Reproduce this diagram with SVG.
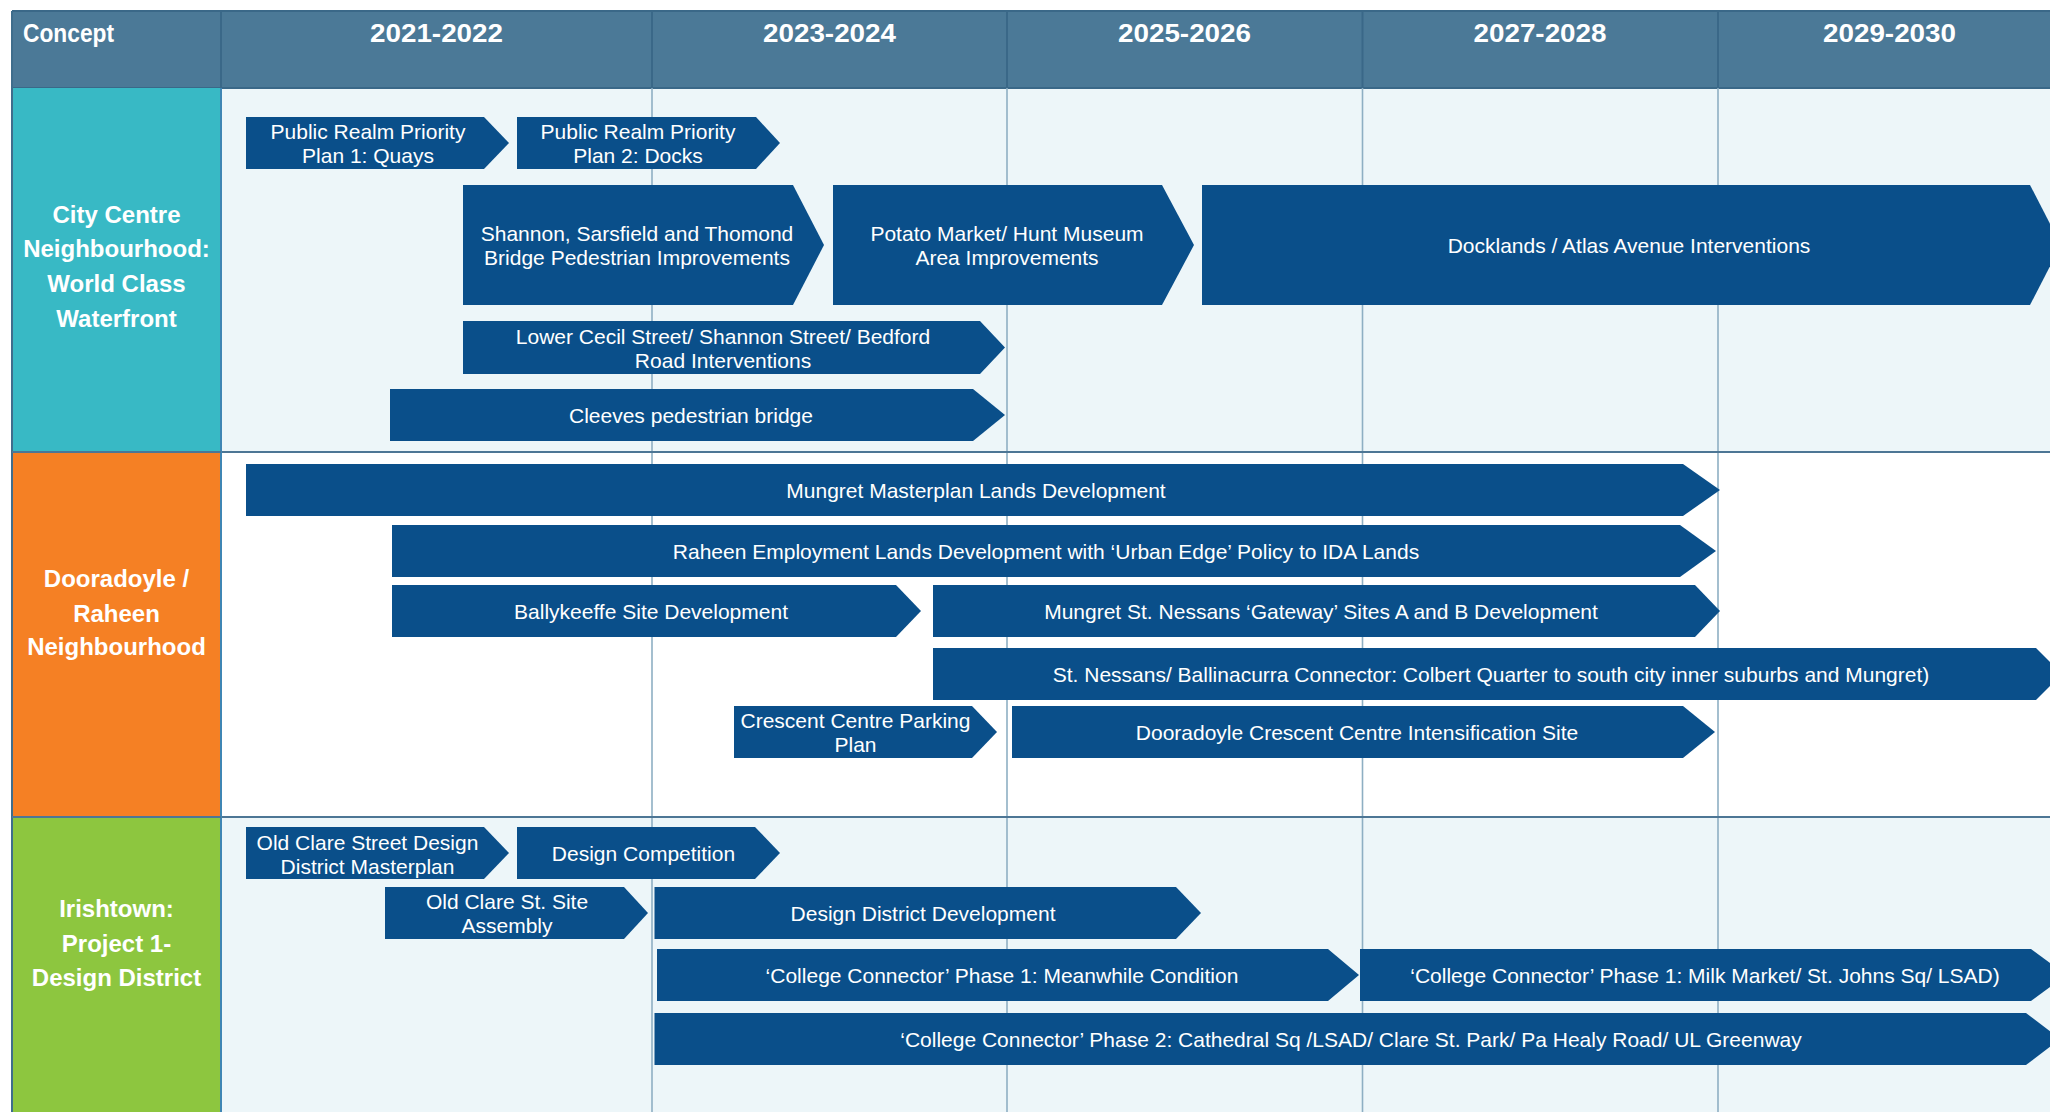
<svg xmlns="http://www.w3.org/2000/svg" width="2050" height="1112" viewBox="0 0 2050 1112">
<style>
.hdr{fill:#4b7997}
.hl{stroke:#3a6888;stroke-width:2}
.vl{stroke:#8eafc3;stroke-width:1.6}
.rl{stroke:#4d7695;stroke-width:2}
.ht{font-family:"Liberation Sans",Arial,sans-serif;font-weight:bold;font-size:25px;fill:#ffffff}
.ct{font-family:"Liberation Sans",Arial,sans-serif;font-weight:bold;font-size:24px;fill:#ffffff;text-anchor:middle}
.bar{fill:#0a4f8a}
.bt{font-family:"Liberation Sans",Arial,sans-serif;font-size:21px;fill:#ffffff;text-anchor:middle}
</style>
<rect x="0" y="0" width="2050" height="1112" fill="#ffffff"/>
<g id="grid">
<rect x="221" y="88" width="1840" height="364" fill="#edf6f9"/>
<rect x="221" y="452" width="1840" height="365" fill="#ffffff"/>
<rect x="221" y="817" width="1840" height="300" fill="#edf6f9"/>
<rect class="hdr" x="12" y="11" width="2050" height="77"/>
<line class="hl" x1="12" y1="11" x2="2050" y2="11"/>
<line class="hl" x1="12" y1="88" x2="2050" y2="88"/>
<line class="hl" x1="221" y1="11" x2="221" y2="88"/>
<line class="hl" x1="652" y1="11" x2="652" y2="88"/>
<line class="hl" x1="1007" y1="11" x2="1007" y2="88"/>
<line class="hl" x1="1362.5" y1="11" x2="1362.5" y2="88"/>
<line class="hl" x1="1718" y1="11" x2="1718" y2="88"/>
<line class="vl" x1="652" y1="88" x2="652" y2="1112"/>
<line class="vl" x1="1007" y1="88" x2="1007" y2="1112"/>
<line class="vl" x1="1362.5" y1="88" x2="1362.5" y2="1112"/>
<line class="vl" x1="1718" y1="88" x2="1718" y2="1112"/>
<line class="rl" x1="12" y1="452" x2="2050" y2="452"/>
<line class="rl" x1="12" y1="817" x2="2050" y2="817"/>
<text class="ht" x="23" y="42" textLength="91" lengthAdjust="spacingAndGlyphs">Concept</text>
<text class="ht" x="370" y="42" textLength="133" lengthAdjust="spacingAndGlyphs">2021-2022</text>
<text class="ht" x="763" y="42" textLength="133" lengthAdjust="spacingAndGlyphs">2023-2024</text>
<text class="ht" x="1118" y="42" textLength="133" lengthAdjust="spacingAndGlyphs">2025-2026</text>
<text class="ht" x="1473.5" y="42" textLength="133" lengthAdjust="spacingAndGlyphs">2027-2028</text>
<text class="ht" x="1823" y="42" textLength="133" lengthAdjust="spacingAndGlyphs">2029-2030</text>
</g>
<g id="concept-city-centre">
<rect x="12" y="88" width="209" height="364" fill="#38b9c5"/>
<text class="ct" x="116.5" y="223">City Centre</text>
<text class="ct" x="116.5" y="257">Neighbourhood:</text>
<text class="ct" x="116.5" y="292">World Class</text>
<text class="ct" x="116.5" y="327">Waterfront</text>
</g>
<g id="concept-dooradoyle">
<rect x="12" y="452" width="209" height="365" fill="#f58024"/>
<text class="ct" x="116.5" y="587">Dooradoyle /</text>
<text class="ct" x="116.5" y="622">Raheen</text>
<text class="ct" x="116.5" y="655">Neighbourhood</text>
</g>
<g id="concept-irishtown">
<rect x="12" y="817" width="209" height="300" fill="#8dc63f"/>
<text class="ct" x="116.5" y="917">Irishtown:</text>
<text class="ct" x="116.5" y="952">Project 1-</text>
<text class="ct" x="116.5" y="986">Design District</text>
</g>
<g id="borders">
<line x1="12" y1="11" x2="12" y2="1112" stroke="#3f6d8c" stroke-width="2"/>
<line x1="221" y1="88" x2="221" y2="1112" stroke="#3f86b4" stroke-width="2"/>
<line class="rl" x1="12" y1="452" x2="221" y2="452"/>
<line class="rl" x1="12" y1="817" x2="221" y2="817"/>
</g>
<g id="t01"><polygon class="bar" points="246,117 484,117 509,143 484,169 246,169"/><text class="bt" x="368" y="139">Public Realm Priority</text><text class="bt" x="368" y="163">Plan 1: Quays</text></g>
<g id="t02"><polygon class="bar" points="517,117 756,117 780,143 756,169 517,169"/><text class="bt" x="638" y="139">Public Realm Priority</text><text class="bt" x="638" y="163">Plan 2: Docks</text></g>
<g id="t03"><polygon class="bar" points="463,185 793,185 824,245 793,305 463,305"/><text class="bt" x="637" y="241">Shannon, Sarsfield and Thomond</text><text class="bt" x="637" y="265">Bridge Pedestrian Improvements</text></g>
<g id="t04"><polygon class="bar" points="833,185 1162,185 1194,245 1162,305 833,305"/><text class="bt" x="1007" y="241">Potato Market/ Hunt Museum</text><text class="bt" x="1007" y="265">Area Improvements</text></g>
<g id="t05"><polygon class="bar" points="1202,185 2030,185 2061,245 2030,305 1202,305"/><text class="bt" x="1629" y="253">Docklands / Atlas Avenue Interventions</text></g>
<g id="t06"><polygon class="bar" points="463,321 980,321 1005,347.5 980,374 463,374"/><text class="bt" x="723" y="343.5">Lower Cecil Street/ Shannon Street/ Bedford</text><text class="bt" x="723" y="367.5">Road Interventions</text></g>
<g id="t07"><polygon class="bar" points="390,389 973,389 1005,415 973,441 390,441"/><text class="bt" x="691" y="423">Cleeves pedestrian bridge</text></g>
<g id="t08"><polygon class="bar" points="246,464 1683,464 1720,490 1683,516 246,516"/><text class="bt" x="976" y="498">Mungret Masterplan Lands Development</text></g>
<g id="t09"><polygon class="bar" points="392,525 1680,525 1716,551 1680,577 392,577"/><text class="bt" x="1046" y="559">Raheen Employment Lands Development with ‘Urban Edge’ Policy to IDA Lands</text></g>
<g id="t10"><polygon class="bar" points="392,585 896,585 921,611 896,637 392,637"/><text class="bt" x="651" y="619">Ballykeeffe Site Development</text></g>
<g id="t11"><polygon class="bar" points="933,585 1695,585 1720,611 1695,637 933,637"/><text class="bt" x="1321" y="619">Mungret St. Nessans ‘Gateway’ Sites A and B Development</text></g>
<g id="t12"><polygon class="bar" points="933,648 2036,648 2062,674 2036,700 933,700"/><text class="bt" x="1491" y="682">St. Nessans/ Ballinacurra Connector: Colbert Quarter to south city inner suburbs and Mungret)</text></g>
<g id="t13"><polygon class="bar" points="734,706 972,706 997,732 972,758 734,758"/><text class="bt" x="855.5" y="728">Crescent Centre Parking</text><text class="bt" x="855.5" y="752">Plan</text></g>
<g id="t14"><polygon class="bar" points="1012,706 1683,706 1715,732 1683,758 1012,758"/><text class="bt" x="1357" y="740">Dooradoyle Crescent Centre Intensification Site</text></g>
<g id="t15"><polygon class="bar" points="246,827 484,827 509,853 484,879 246,879"/><text class="bt" x="367.5" y="850">Old Clare Street Design</text><text class="bt" x="367.5" y="874">District Masterplan</text></g>
<g id="t16"><polygon class="bar" points="517,827 755,827 780,853 755,879 517,879"/><text class="bt" x="643.5" y="861">Design Competition</text></g>
<g id="t17"><polygon class="bar" points="385,887 624,887 648,913 624,939 385,939"/><text class="bt" x="507" y="909">Old Clare St. Site</text><text class="bt" x="507" y="933">Assembly</text></g>
<g id="t18"><polygon class="bar" points="654.5,887 1176,887 1201,913 1176,939 654.5,939"/><text class="bt" x="923" y="921">Design District Development</text></g>
<g id="t19"><polygon class="bar" points="657,949 1328,949 1359,975 1328,1001 657,1001"/><text class="bt" x="1002" y="983">‘College Connector’ Phase 1: Meanwhile Condition</text></g>
<g id="t20"><polygon class="bar" points="1360,949 2031,949 2066,975 2031,1001 1360,1001"/><text class="bt" x="1705" y="983">‘College Connector’ Phase 1: Milk Market/ St. Johns Sq/ LSAD)</text></g>
<g id="t21"><polygon class="bar" points="654.5,1013 2026,1013 2060,1039 2026,1065 654.5,1065"/><text class="bt" x="1351" y="1047">‘College Connector’ Phase 2: Cathedral Sq /LSAD/ Clare St. Park/ Pa Healy Road/ UL Greenway</text></g>
<g id="connectors"></g>
</svg>
